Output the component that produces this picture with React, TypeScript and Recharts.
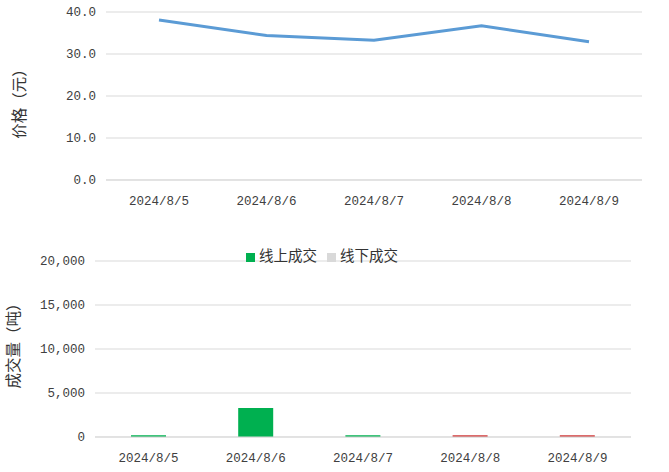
import React from 'react'
import {
  LineChart,
  Line,
  BarChart,
  Bar,
  Cell,
  XAxis,
  YAxis,
  CartesianGrid,
  Legend,
} from 'recharts'

// categories and values
const dates = ['2024/8/5', '2024/8/6', '2024/8/7', '2024/8/8', '2024/8/9']
const prices = [38.1, 34.4, 33.3, 36.7, 32.9]
const onlineVolume = [200, 3300, 200, 200, 200]
const offlineVolume = [0, 0, 0, 0, 0]
const priceTicks = [0, 10, 20, 30, 40]
const volumeTicks = [0, 5000, 10000, 15000, 20000]

const priceData = dates.map((d, i) => ({ date: d, price: prices[i] }))
const volumeData = dates.map((d, i) => ({
  date: d,
  online: onlineVolume[i],
  offline: offlineVolume[i],
}))

// the last two days are drawn red in the source
const onlineColors = ['#00B050', '#00B050', '#00B050', '#D03A3A', '#D03A3A']

const mono = '"Liberation Mono", "DejaVu Sans Mono", monospace'
const cjk = '"Noto Sans CJK SC", sans-serif'
const textColor = '#404040'
const gridColor = '#D9D9D9'

const tickStyle = { fontFamily: mono, fontSize: 12.5, fill: textColor }

const axisTitle = (text: string, x: number, shift: number) => (props: any) => {
  const { viewBox } = props
  const cy = viewBox.y + viewBox.height / 2 + shift
  return (
    <text
      x={x}
      y={cy}
      transform={`rotate(-90, ${x}, ${cy})`}
      textAnchor="middle"
      dominantBaseline="central"
      style={{ fontFamily: cjk, fontSize: 15.5, fill: '#333' }}
    >
      {text}
    </text>
  )
}

export default function App() {
  return (
    <div style={{ position: 'absolute', top: 0, left: 0, width: 669, height: 472, background: '#fff' }}>
      <LineChart
        width={669}
        height={215}
        data={priceData}
        margin={{ top: 12, right: 27, bottom: 5, left: 0 }}
      >
        <CartesianGrid vertical={false} stroke={gridColor} />
        <XAxis
          dataKey="date"
          axisLine={{ stroke: gridColor }}
          tickLine={false}
          tick={tickStyle}
          tickMargin={10}
          height={30}
          padding={{ left: 53, right: 53 }}
        />
        <YAxis
          domain={[0, 40]}
          ticks={priceTicks}
          tickFormatter={(v: number) => v.toFixed(1)}
          axisLine={false}
          tickLine={false}
          tick={tickStyle}
          tickMargin={4}
          width={106}
          label={{ content: axisTitle('价格（元）', 18, 4) }}
        />
        <Line
          type="linear"
          dataKey="price"
          stroke="#5B9BD5"
          strokeWidth={3}
          dot={false}
          isAnimationActive={false}
        />
      </LineChart>

      <div style={{ position: 'absolute', top: 230, left: 0 }}>
        <BarChart
          width={669}
          height={242}
          data={volumeData}
          margin={{ top: 10, right: 38, bottom: 5, left: 0 }}
        >
          <CartesianGrid vertical={false} stroke={gridColor} />
          <Legend
            verticalAlign="top"
            align="center"
            iconType="square"
            iconSize={9}
            wrapperStyle={{ top: 14, left: 0, width: 654, fontFamily: cjk, fontSize: 14.5 }}
            formatter={(value: string) => <span style={{ color: '#333' }}>{value}</span>}
          />
          <XAxis
            dataKey="date"
            axisLine={{ stroke: gridColor }}
            tickLine={false}
            tick={tickStyle}
            tickMargin={10}
            height={30}
          />
          <YAxis
            domain={[0, 20000]}
            ticks={volumeTicks}
            tickFormatter={(v: number) => v.toLocaleString('en-US')}
            axisLine={false}
            tickLine={false}
            tick={tickStyle}
            tickMargin={4}
            width={95}
            label={{ content: axisTitle('成交量（吨）', 12, -7) }}
          />
          <Bar dataKey="online" name="线上成交" stackId="a" fill="#00B050" barSize={35} isAnimationActive={false}>
            {volumeData.map((_, i) => (
              <Cell key={i} fill={onlineColors[i]} />
            ))}
          </Bar>
          <Bar dataKey="offline" name="线下成交" stackId="a" fill="#D9D9D9" barSize={35} isAnimationActive={false} />
        </BarChart>
      </div>
    </div>
  )
}
